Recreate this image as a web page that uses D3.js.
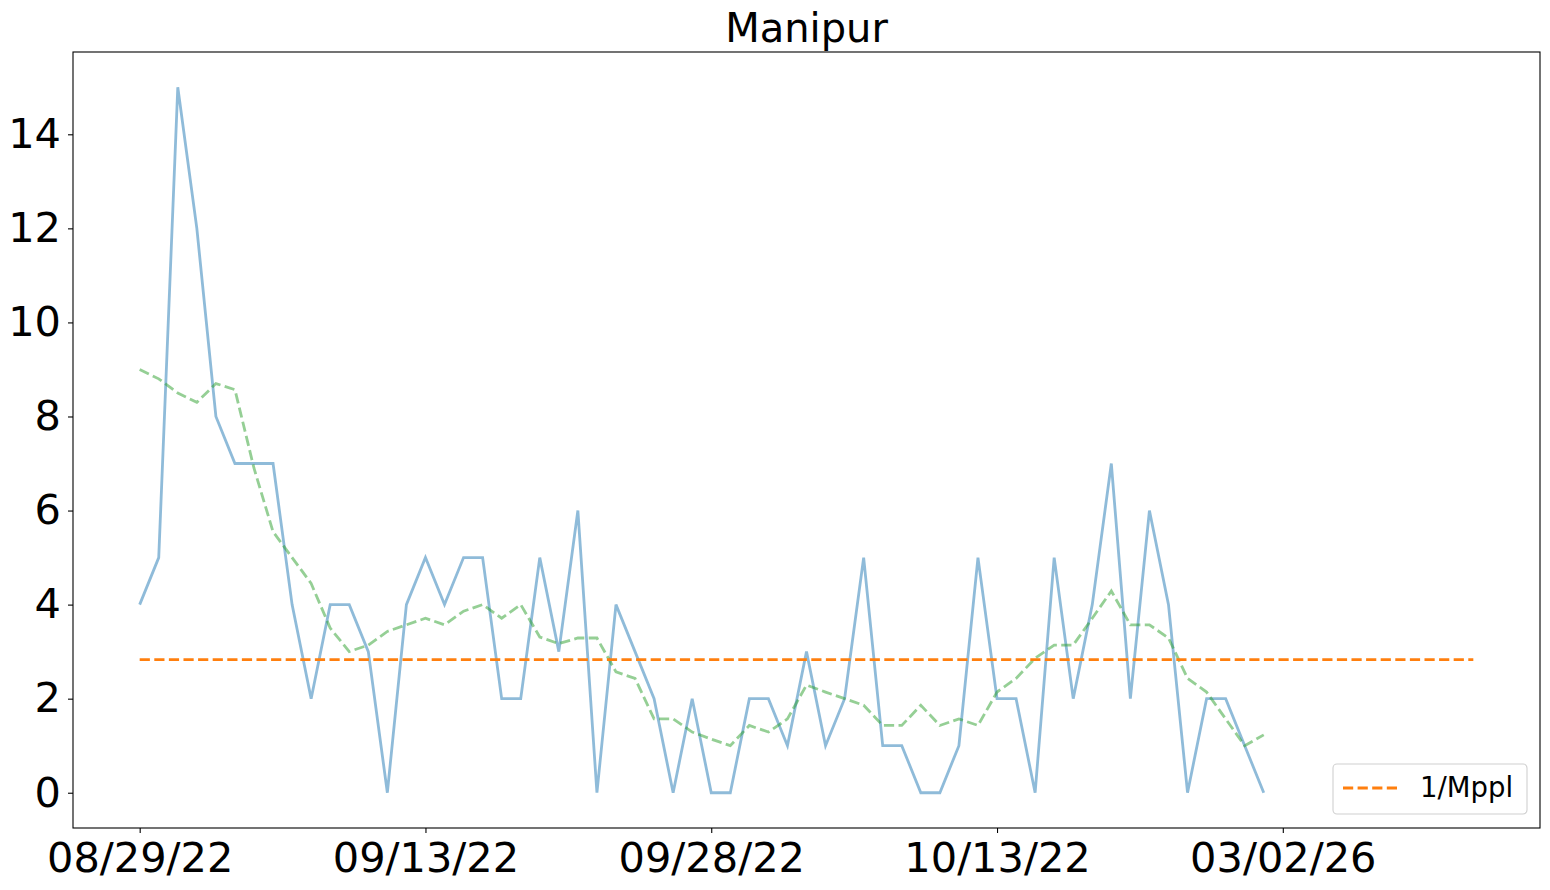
<!DOCTYPE html>
<html>
<head>
<meta charset="utf-8">
<script src="https://cdn.jsdelivr.net/npm/d3@7"></script>
<style>
  html, body { margin: 0; padding: 0; background: #fff; }
  svg { display: block; font-family: "DejaVu Sans", sans-serif; }
</style>
</head>
<body>
<svg id="chart" width="1550" height="890"></svg>
<script>
// ---- data ----
const title = "Manipur";
const dailyValues = [4, 5, 15, 12, 8, 7, 7, 7, 4, 2, 4, 4, 3, 0, 4, 5, 4, 5, 5, 2,
  2, 5, 3, 6, 0, 4, 3, 2, 0, 2, 0, 0, 2, 2, 1, 3, 1, 2, 5, 1,
  1, 0, 0, 1, 5, 2, 2, 0, 5, 2, 4, 7, 2, 6, 4, 0, 2, 2, 1, 0];
const avgValues = [9.0, 8.8, 8.5, 8.3, 8.7, 8.57, 6.9, 5.55, 5.0, 4.45, 3.5, 3.0, 3.14, 3.43, 3.57, 3.71, 3.57, 3.86, 4.0, 3.71,
  4.0, 3.31, 3.17, 3.29, 3.29, 2.57, 2.43, 1.57, 1.57, 1.29, 1.14, 1.0, 1.43, 1.29, 1.57, 2.29, 2.14, 2.0, 1.86, 1.43,
  1.43, 1.86, 1.43, 1.57, 1.43, 2.14, 2.43, 2.86, 3.14, 3.14, 3.71, 4.29, 3.57, 3.57, 3.29, 2.43, 2.14, 1.57, 1.0, 1.23];
const mpplIndex = [0, 70];
const mpplValue = [2.83, 2.83];
const xTickIndex = [0, 15, 30, 45, 60];
const xTickLabels = ["08/29/22", "09/13/22", "09/28/22", "10/13/22", "03/02/26"];
const yTicks = [0, 2, 4, 6, 8, 10, 12, 14];
const legendLabel = "1/Mppl";

// ---- layout ----
const svg = d3.select("#chart");
const L = 73, R = 1540, T = 52, B = 828;

const x = d3.scaleLinear().domain([-3.5, 73.5]).range([L, R]);
const y = d3.scaleLinear().domain([-0.75, 15.75]).range([B, T]);

// title
svg.append("text")
  .attr("x", (L + R) / 2).attr("y", 42)
  .attr("text-anchor", "middle")
  .attr("font-size", 40)
  .attr("fill", "#000")
  .text(title);

const line = d3.line().x(d => x(d[0])).y(d => y(d[1]));

// daily series
svg.append("path")
  .datum(dailyValues.map((v, i) => [i, v]))
  .attr("d", line)
  .attr("fill", "none")
  .attr("stroke", "#1f77b4")
  .attr("stroke-opacity", 0.5)
  .attr("stroke-width", 2.8)
  .attr("stroke-linejoin", "miter");

// rolling average
svg.append("path")
  .datum(avgValues.map((v, i) => [i, v]))
  .attr("d", line)
  .attr("fill", "none")
  .attr("stroke", "#2ca02c")
  .attr("stroke-opacity", 0.5)
  .attr("stroke-width", 2.8)
  .attr("stroke-dasharray", "10.2,4.4");

// 1/Mppl
svg.append("path")
  .datum(mpplIndex.map((v, i) => [v, mpplValue[i]]))
  .attr("d", line)
  .attr("fill", "none")
  .attr("stroke", "#ff7f0e")
  .attr("stroke-width", 2.8)
  .attr("stroke-dasharray", "10.2,4.4");

// axes
const xAxis = d3.axisBottom(x)
  .tickValues(xTickIndex)
  .tickFormat((d, i) => xTickLabels[i])
  .tickSize(5).tickPadding(7);
const gx = svg.append("g").attr("transform", `translate(0,${B})`).call(xAxis);
gx.select(".domain").remove();
gx.selectAll("line").attr("stroke", "#000").attr("stroke-width", 1.1);
gx.selectAll("text").attr("font-size", 41.5).attr("fill", "#000")
  .attr("font-family", "DejaVu Sans").attr("dy", "0.76em");

const yAxis = d3.axisLeft(y).tickValues(yTicks).tickSize(5).tickPadding(7);
const gy = svg.append("g").attr("transform", `translate(${L},0)`).call(yAxis);
gy.select(".domain").remove();
gy.selectAll("line").attr("stroke", "#000").attr("stroke-width", 1.1);
gy.selectAll("text").attr("font-size", 41.5).attr("fill", "#000")
  .attr("font-family", "DejaVu Sans");

// frame
svg.append("rect")
  .attr("x", L).attr("y", T).attr("width", R - L).attr("height", B - T)
  .attr("fill", "none").attr("stroke", "#000").attr("stroke-width", 1.1);

// legend
const lg = svg.append("g");
lg.append("rect")
  .attr("x", 1333).attr("y", 764).attr("width", 194).attr("height", 50)
  .attr("rx", 4).attr("fill", "#fff").attr("fill-opacity", 0.8)
  .attr("stroke", "#d0d0d0").attr("stroke-width", 1.1);
lg.append("line")
  .attr("x1", 1343).attr("x2", 1398).attr("y1", 788).attr("y2", 788)
  .attr("stroke", "#ff7f0e").attr("stroke-width", 2.8)
  .attr("stroke-dasharray", "10.2,4.4");
lg.append("text")
  .attr("x", 1420).attr("y", 797)
  .attr("font-size", 27.5).attr("fill", "#000")
  .text(legendLabel);
</script>
</body>
</html>
